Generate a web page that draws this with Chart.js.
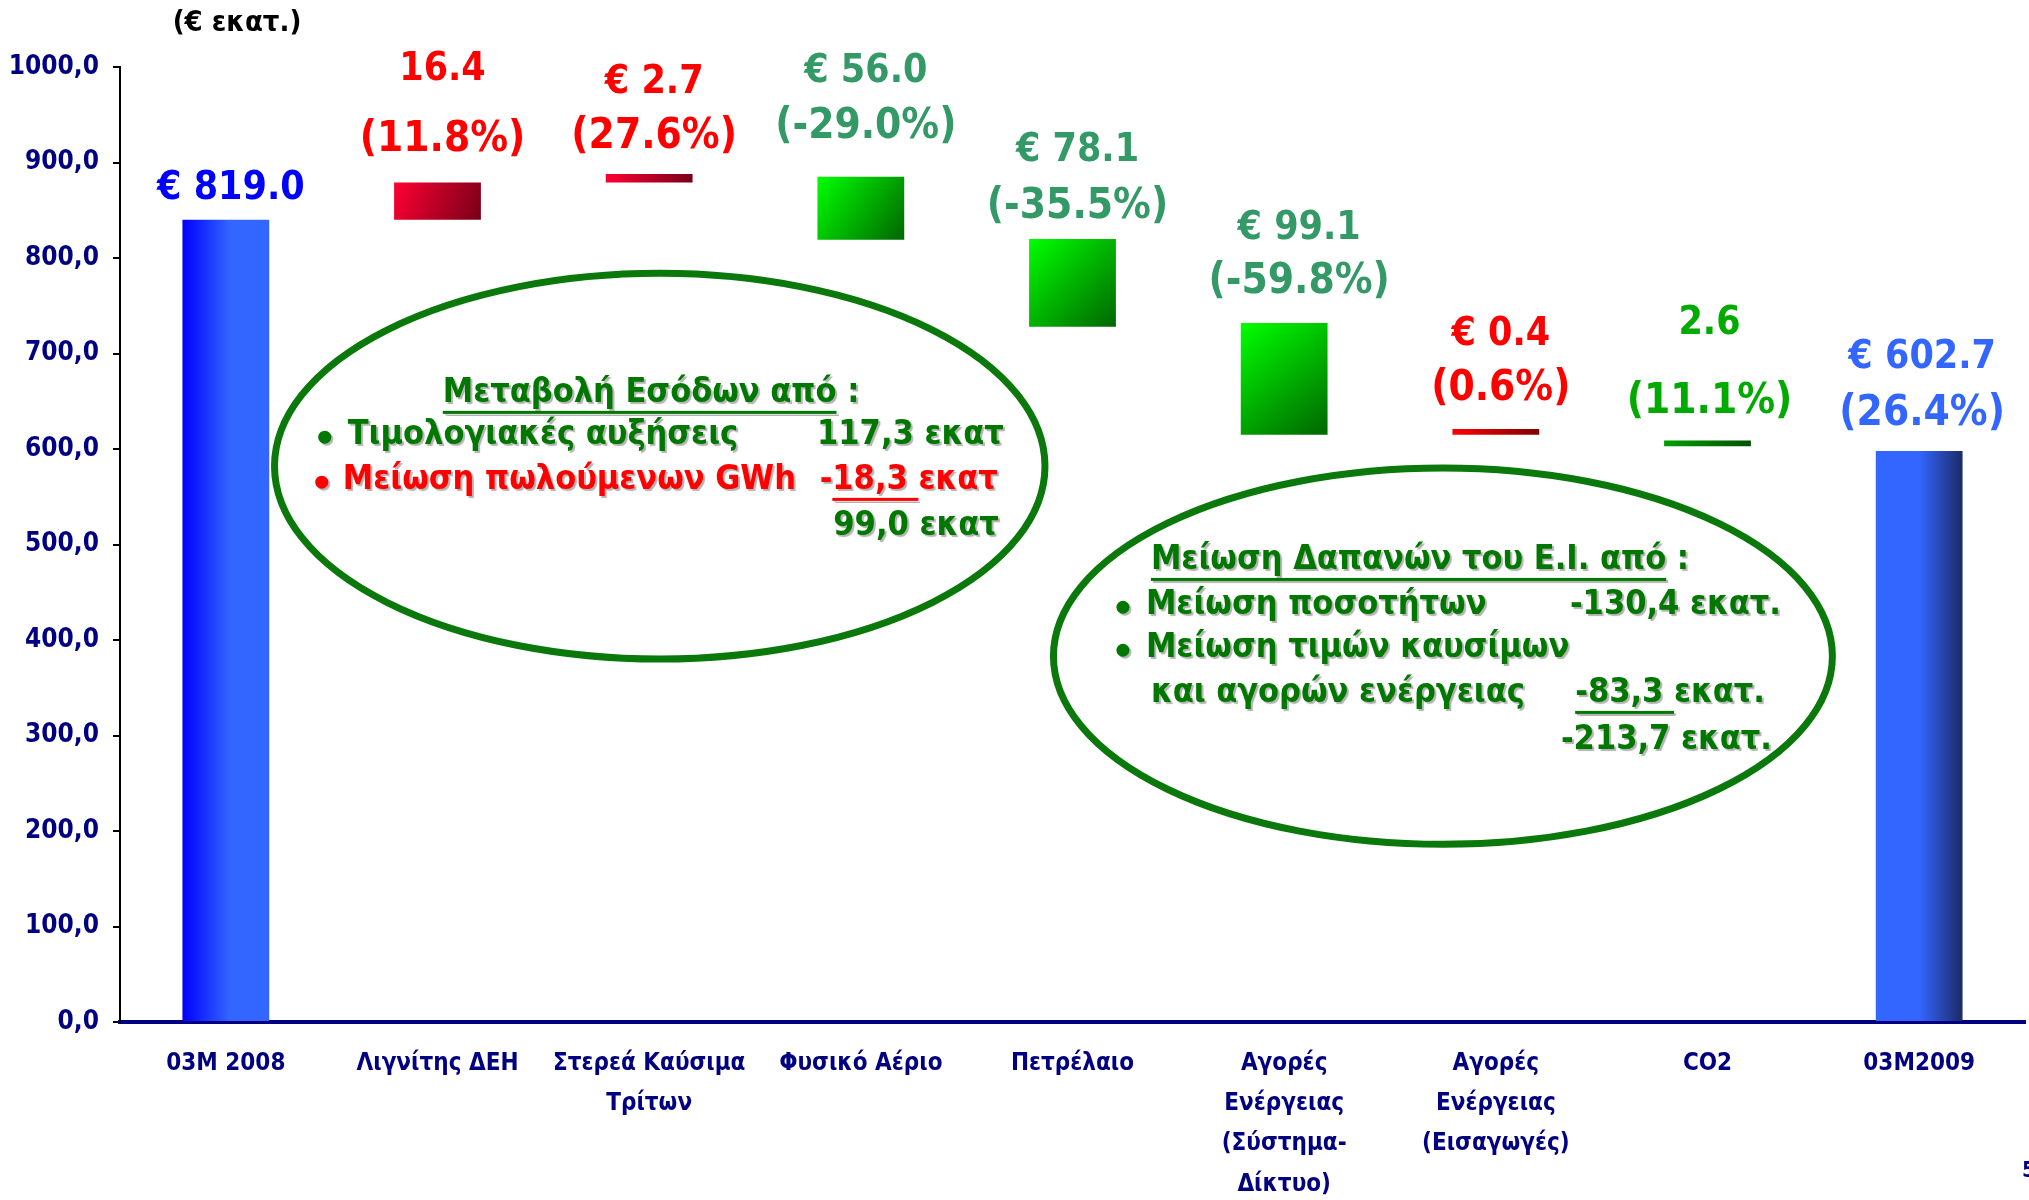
<!doctype html>
<html lang="el">
<head>
<meta charset="utf-8">
<script src="https://cdn.jsdelivr.net/npm/chart.js@4.4.1/dist/chart.umd.min.js"></script>
<style>
  html, body { margin: 0; padding: 0; background: #fff; }
  canvas { display: block; }
</style>
</head>
<body>
<canvas id="waterfall" width="2029" height="1200"></canvas>
<script>
/*======================= data =========================*/
const categories = [
  ['03M 2008'],
  ['Λιγνίτης ΔΕΗ'],
  ['Στερεά Καύσιμα', 'Τρίτων'],
  ['Φυσικό Αέριο'],
  ['Πετρέλαιο'],
  ['Αγορές', 'Ενέργειας', '(Σύστημα-', 'Δίκτυο)'],
  ['Αγορές', 'Ενέργειας', '(Εισαγωγές)'],
  ['CO2'],
  ['03M2009']
];
// floating bars as drawn on the slide (bottom / top, € εκατ.)
const barLow  = [0,   840, 879, 819, 728, 615, 615, 603, 0];
const barHigh = [840, 879, 888, 885, 820, 732, 621, 609, 598];
const amountText = ['€ 819.0', '16.4', '€ 2.7', '€ 56.0', '€ 78.1', '€ 99.1', '€ 0.4', '2.6', '€ 602.7'];
const pctText    = ['', '(11.8%)', '(27.6%)', '(-29.0%)', '(-35.5%)', '(-59.8%)', '(0.6%)', '(11.1%)', '(26.4%)'];
const yMin = 0, yMax = 1000, yStep = 100;
const unitText = '(€ εκατ.)';

/*======================= styles =========================*/
function hasFont(name) {
  const c = document.createElement('canvas').getContext('2d');
  const s = '03M 2008 Αγορές';
  c.font = '40px monospace'; const a = c.measureText(s).width;
  c.font = '40px "' + name + '", monospace'; const b = c.measureText(s).width;
  return a !== b;
}
const NARROW = hasFont('Liberation Sans Narrow');
const F_AXIS = NARROW ? '"Liberation Sans Narrow", "DejaVu Sans Condensed", sans-serif' : '"DejaVu Sans Condensed", sans-serif';
const F_TEXT = '"DejaVu Sans Condensed", "DejaVu Sans", sans-serif';
const NAVY = '#000080';
const OVAL_GREEN = '#0a780a';
const TXT_GREEN = '#007800';
const BAR_PCT = 0.41;

const barStyle = [
  {dir: 'h', stops: [[0, '#0000ff'], [0.55, '#3366ff'], [1, '#3366ff']]},
  {dir: 'd', stops: [[0, '#ff0033'], [1, '#760018']]},
  {dir: 'd', stops: [[0, '#ff0033'], [1, '#760018']]},
  {dir: 'd', stops: [[0, '#00ff00'], [1, '#006600']]},
  {dir: 'd', stops: [[0, '#00ff00'], [1, '#006600']]},
  {dir: 'd', stops: [[0, '#00ff00'], [1, '#006600']]},
  {dir: 'd', stops: [[0, '#ff0000'], [1, '#800000']]},
  {dir: 'd', stops: [[0, '#00a000'], [1, '#005000']]},
  {dir: 'h', stops: [[0, '#3366ff'], [0.5, '#3366ff'], [1, '#1c2a66']]}
];
const labelColor = ['#0000ff', '#ff0000', '#ff0000', '#339966', '#339966', '#339966', '#ff0000', '#00aa00', '#3366ff'];
// gap bar top -> lower label line, and lower -> upper line
const gapLow  = [31, 42, 37, 50, 32, 41, 40, 38, 37];
const gapHigh = [0, 71, 54, 55, 56, 53, 54, 79, 56];
const labelDx = [5, 5, 5, 5, 5, 15, 5, 2, 3];

// text notes inside the two ovals (offsets from oval centre)
const leftOval = {x: 2.05, y: 582, rx: 1.82, ry: 202};
const rightOval = {x: 5.75, y: 383, rx: 1.84, ry: 197};
const leftNote = [
  {text: 'Μεταβολή Εσόδων από :', dx: -217, dy: -73, align: 'left', color: TXT_GREEN, ul: 'Μεταβολή Εσόδων από'},
  {bullet: true, dx: -335, dy: -31, color: TXT_GREEN},
  {text: 'Τιμολογιακές αυξήσεις', dx: -312, dy: -31, align: 'left', color: TXT_GREEN},
  {text: '117,3 εκατ', dx: 344, dy: -31, align: 'right', color: TXT_GREEN},
  {bullet: true, dx: -338, dy: 14, color: '#ff0000'},
  {text: 'Μείωση πωλούμενων GWh', dx: -317, dy: 14, align: 'left', color: '#ff0000'},
  {text: '-18,3 εκατ', dx: 338, dy: 14, align: 'right', color: '#ff0000', ulSkip: '-', ul: '18,3 '},
  {text: '99,0 εκατ', dx: 339, dy: 60, align: 'right', color: TXT_GREEN}
];
const rightNote = [
  {text: 'Μείωση Δαπανών του Ε.Ι. από :', dx: -292, dy: -96, align: 'left', color: TXT_GREEN, ul: 'Μείωση Δαπανών του Ε.Ι. από'},
  {bullet: true, dx: -320, dy: -51, color: TXT_GREEN},
  {text: 'Μείωση ποσοτήτων', dx: -297, dy: -51, align: 'left', color: TXT_GREEN},
  {text: '-130,4 εκατ.', dx: 338, dy: -51, align: 'right', color: TXT_GREEN},
  {bullet: true, dx: -320, dy: -8, color: TXT_GREEN},
  {text: 'Μείωση τιμών καυσίμων', dx: -297, dy: -8, align: 'left', color: TXT_GREEN},
  {text: 'και αγορών ενέργειας', dx: -292, dy: 37, align: 'left', color: TXT_GREEN},
  {text: '-83,3 εκατ.', dx: 322, dy: 37, align: 'right', color: TXT_GREEN, ul: '-83,3 '},
  {text: '-213,7 εκατ.', dx: 329, dy: 84, align: 'right', color: TXT_GREEN}
];

/*------- gradient fill per bar, from the scales -------*/
function barFill(c) {
  const chart = c.chart, i = c.dataIndex;
  if (!chart.chartArea || i === undefined) return '#3366ff';
  const xs = chart.scales.x, ys = chart.scales.y;
  const cx = xs.getPixelForValue(i);
  const half = xs.width / categories.length * BAR_PCT / 2;
  const y0 = ys.getPixelForValue(barHigh[i]), y1 = ys.getPixelForValue(barLow[i]);
  const st = barStyle[i];
  const g = st.dir === 'h'
    ? chart.ctx.createLinearGradient(cx - half, 0, cx + half, 0)
    : chart.ctx.createLinearGradient(cx - half, y0, cx + half, y1);
  st.stops.forEach(s => g.addColorStop(s[0], s[1]));
  return g;
}

/*------- labels above bars + ovals + notes -------*/
function drawNote(ctx, cx, cy, lines) {
  const size = 34;
  ctx.save();
  ctx.textBaseline = 'middle';
  lines.forEach(l => {
    ctx.fillStyle = l.color;
    ctx.shadowColor = 'rgba(0,0,0,0.3)';
    ctx.shadowOffsetX = 2; ctx.shadowOffsetY = 2; ctx.shadowBlur = 1;
    if (l.bullet) {
      ctx.beginPath();
      ctx.arc(cx + l.dx, cy + l.dy + 2, 6.5, 0, Math.PI * 2);
      ctx.fill();
      return;
    }
    ctx.font = 'bold ' + size + 'px ' + F_TEXT;
    ctx.textAlign = l.align;
    const x = cx + l.dx, y = cy + l.dy;
    ctx.fillText(l.text, x, y);
    if (l.ul) {
      const full = ctx.measureText(l.text).width;
      let x0 = l.align === 'left' ? x : x - full;
      if (l.ulSkip) x0 += ctx.measureText(l.ulSkip).width;
      const w = ctx.measureText(l.ul).width;
      ctx.fillRect(x0, y + size * 0.52, w, 3);
    }
  });
  ctx.restore();
}

const annotate = {
  id: 'annotate',
  afterDatasetsDraw(chart) {
    const ctx = chart.ctx, xs = chart.scales.x, ys = chart.scales.y, area = chart.chartArea;
    const catW = xs.width / categories.length;
    const meta = chart.getDatasetMeta(0);

    ctx.save();
    ctx.textAlign = 'center';
    ctx.textBaseline = 'middle';
    meta.data.forEach((el, i) => {
      const top = Math.min(el.y, el.base);
      const x = el.x + labelDx[i];
      ctx.fillStyle = labelColor[i];
      if (pctText[i]) {
        const yLow = top - gapLow[i];
        ctx.font = 'bold 42px ' + F_TEXT;
        ctx.fillText(pctText[i], x, yLow);
        ctx.font = 'bold 39px ' + F_TEXT;
        ctx.fillText(amountText[i], x, yLow - gapHigh[i]);
      } else {
        ctx.font = 'bold 39px ' + F_TEXT;
        ctx.fillText(amountText[i], x, top - gapLow[i]);
      }
    });

    // ovals
    [[leftOval, leftNote], [rightOval, rightNote]].forEach(([o, note]) => {
      const cx = xs.getPixelForValue(o.x), cy = ys.getPixelForValue(o.y);
      const ry = ys.getPixelForValue(0) - ys.getPixelForValue(o.ry);
      ctx.beginPath();
      ctx.ellipse(cx, cy, o.rx * catW, ry, 0, 0, Math.PI * 2);
      ctx.lineWidth = 7;
      ctx.strokeStyle = OVAL_GREEN;
      ctx.stroke();
      drawNote(ctx, cx, cy, note);
    });

    // unit caption and page number
    ctx.fillStyle = '#000';
    ctx.font = 'bold 29px ' + F_TEXT;
    ctx.fillText(unitText, area.left + 117, area.top - 44);
    ctx.fillStyle = NAVY;
    ctx.font = 'bold 22px ' + F_AXIS;
    ctx.textAlign = 'left';
    ctx.fillText('5', area.right - 3, 1171);
    ctx.restore();
  }
};

/*======================= chart =========================*/
new Chart(document.getElementById('waterfall').getContext('2d'), {
  type: 'bar',
  data: {
    labels: categories,
    datasets: [{
      data: barLow.map((v, i) => [v, barHigh[i]]),
      backgroundColor: barFill,
      borderWidth: 0,
      borderSkipped: false,
      barPercentage: BAR_PCT,
      categoryPercentage: 1
    }]
  },
  options: {
    responsive: false,
    animation: false,
    layout: {padding: {top: 67, right: 4, left: 0, bottom: 0}},
    plugins: {legend: {display: false}, tooltip: {enabled: false}},
    scales: {
      x: {
        grid: {display: false, drawTicks: false},
        border: {display: true, color: NAVY, width: 4},
        ticks: {
          color: NAVY,
          padding: 22,
          maxRotation: 0,
          autoSkip: false,
          font: {family: F_AXIS, weight: 'bold', size: NARROW ? 28 : 24, lineHeight: NARROW ? 1.43 : 1.67}
        },
        afterFit(scale) { scale.height = 178; }
      },
      y: {
        min: yMin,
        max: yMax,
        grid: {display: true, drawOnChartArea: false, drawTicks: true, tickLength: 7, color: '#000', lineWidth: 2},
        border: {display: true, color: '#000', width: 2},
        ticks: {
          stepSize: yStep,
          color: NAVY,
          padding: 14,
          font: {family: F_AXIS, weight: 'bold', size: NARROW ? 30 : 26},
          callback: v => v.toFixed(1).replace('.', ',')
        },
        afterFit(scale) { scale.width = 120; }
      }
    }
  },
  plugins: [annotate]
});
</script>
</body>
</html>
